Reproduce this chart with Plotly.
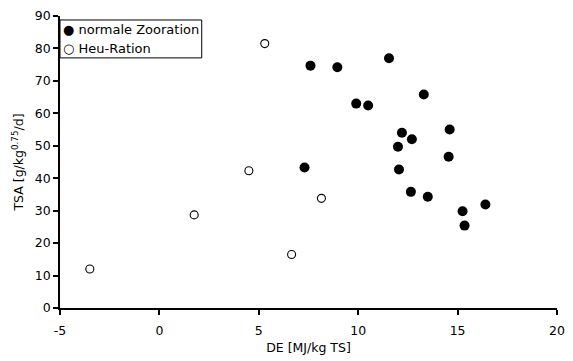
import plotly.graph_objects as go

# normale Zooration (filled)
zoo_x = [7.3, 7.6, 8.95, 11.55, 9.9, 10.5, 13.3, 12.2, 12.7, 12.0, 14.6, 14.55, 12.05, 12.65, 13.5, 15.25, 15.35, 16.4]
zoo_y = [43.3, 74.7, 74.2, 77.0, 63.0, 62.4, 65.8, 54.0, 52.0, 49.7, 55.0, 46.6, 42.7, 35.8, 34.3, 29.8, 25.4, 31.9]

# Heu-Ration (open)
heu_x = [-3.5, 1.75, 4.5, 6.65, 8.15, 5.3]
heu_y = [12.0, 28.7, 42.3, 16.5, 33.8, 81.5]

series_names = ["normale Zooration", "Heu-Ration"]
legend_glyphs = ["\u25CF", "\u25CB"]

x_ticks = [-5, 0, 5, 10, 15, 20]
y_ticks = [0, 10, 20, 30, 40, 50, 60, 70, 80, 90]

font = "DejaVu Sans, Verdana, sans-serif"

fig = go.Figure()
fig.add_trace(go.Scatter(
    x=zoo_x, y=zoo_y, mode="markers", name=series_names[0],
    marker=dict(symbol="circle", size=10, color="black", line=dict(color="black", width=0)),
))
fig.add_trace(go.Scatter(
    x=heu_x, y=heu_y, mode="markers", name=series_names[1],
    marker=dict(symbol="circle", size=8, color="white", line=dict(color="black", width=1.1)),
))

# compact legend box (drawn as shape + annotations, like the original)
plot_h = 292.7
def ypaper(py):
    return (307.7 - py) / plot_h

fig.add_shape(type="rect", xref="paper", yref="paper",
              x0=0, x1=(204 - 60) / 505, y0=ypaper(57), y1=ypaper(19),
              line=dict(color="black", width=1), fillcolor="white", layer="above")
row_y = [29, 47.5]
for name, glyph, py in zip(series_names, legend_glyphs, row_y):
    fig.add_annotation(xref="paper", yref="paper", x=(61 - 60) / 505, y=ypaper(py),
                       xanchor="left", yanchor="middle", showarrow=False,
                       text=glyph + " " + name,
                       font=dict(family=font, size=13, color="black"))

fig.update_layout(
    width=573, height=361,
    margin=dict(l=60, r=8, t=15, b=53),
    paper_bgcolor="white", plot_bgcolor="white",
    font=dict(family=font, size=12, color="black"),
    showlegend=False,
    xaxis=dict(
        range=[-5, 20], tickvals=x_ticks, ticktext=[str(v) for v in x_ticks],
        showgrid=False, zeroline=False, showline=True, linecolor="black", linewidth=1.5,
        ticks="outside", ticklen=5, tickcolor="black", tickwidth=1.5,
        ticklabelstandoff=5,
        title=dict(text="DE [MJ/kg TS]", font=dict(family=font, size=12.5), standoff=6),
        tickfont=dict(family=font, size=12.5),
    ),
    yaxis=dict(
        range=[0, 90], tickvals=y_ticks, ticktext=[str(v) for v in y_ticks],
        showgrid=False, zeroline=False, showline=True, linecolor="black", linewidth=1.5,
        ticks="outside", ticklen=5, tickcolor="black", tickwidth=1.5,
        title=dict(text="TSA [g/kg<sup>0.75</sup>/d]", font=dict(family=font, size=12.5), standoff=8),
        tickfont=dict(family=font, size=12.5),
    ),
)

fig.write_html("out.html")
